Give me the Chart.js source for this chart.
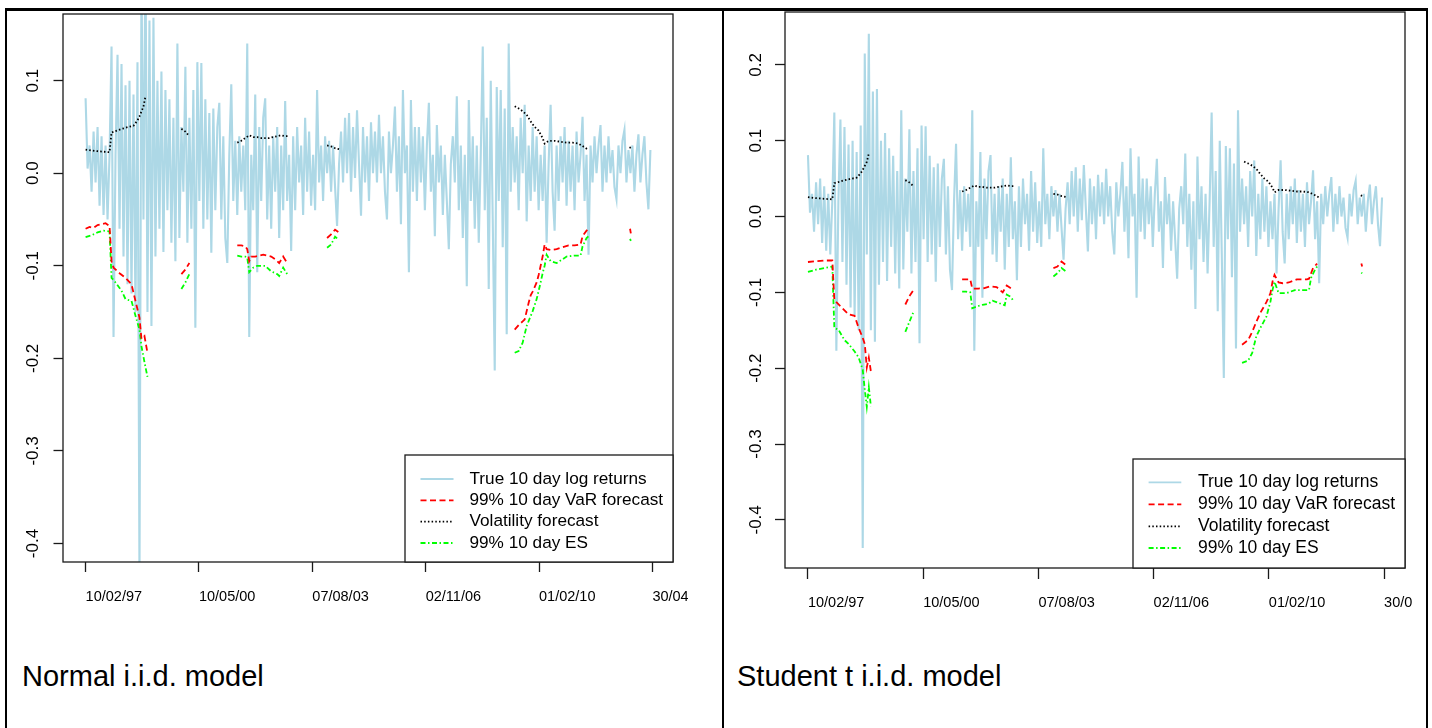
<!DOCTYPE html>
<html>
<head>
<meta charset="utf-8">
<title>10 day VaR backtest</title>
<script src="https://cdn.jsdelivr.net/npm/chart.js@4.4.1/dist/chart.umd.min.js"></script>
<style>
  html, body { margin: 0; padding: 0; background: #fff; }
  body { width: 1432px; height: 728px; position: relative; overflow: hidden;
         font-family: "Liberation Sans", Arial, Helvetica, sans-serif; }
  canvas { position: absolute; top: 0; }
  #normal { left: 0; }
  #student { left: 724px; }
  .rule { position: absolute; background: #000; z-index: 2; }
  .caption { position: absolute; top: 662px; font-size: 29px; line-height: 29px; color: #000; white-space: nowrap; }
</style>
</head>
<body>
<canvas id="normal" width="688" height="640"></canvas>
<canvas id="student" width="688" height="640"></canvas>

<div class="rule" style="left:5px; top:8px; width:1423px; height:3px;"></div>
<div class="rule" style="left:5px; top:8px; width:2px; height:720px;"></div>
<div class="rule" style="left:722px; top:8px; width:2px; height:720px;"></div>
<div class="rule" style="left:1426px; top:8px; width:2px; height:720px;"></div>

<div class="caption" style="left:22px;">Normal i.i.d. model</div>
<div class="caption" style="left:737px;">Student t i.i.d. model</div>

<script>
// x is the observation number (every 14th trading day), 0..283
const returns = [
  0.081, 0.005, 0.030, -0.020, 0.045, -0.010, 0.050, -0.035, 0.040, -0.045,
  0.030, -0.050, 0.020, 0.137, -0.177, 0.020, 0.128, -0.060, 0.118, -0.090,
  0.095, -0.120, 0.100, -0.130, 0.085, -0.150, 0.120, -0.437, 0.215, -0.050,
  0.241, -0.150, 0.165, -0.165, 0.168, -0.090, 0.100, -0.060, 0.110, -0.085,
  0.090, -0.040, 0.080, -0.075, 0.060, -0.095, 0.140, -0.070, 0.050, -0.020,
  0.115, -0.075, 0.060, -0.060, 0.090, -0.167, 0.120, -0.030, 0.119, -0.060,
  0.080, -0.050, 0.065, -0.086, 0.070, -0.040, 0.050, 0.076, -0.050, 0.040,
  -0.070, -0.097, 0.020, 0.096, -0.030, 0.035, -0.045, 0.040, -0.020, 0.030,
  -0.040, 0.140, -0.177, 0.020, -0.040, 0.085, -0.107, 0.050, -0.030, 0.060,
  0.081, -0.050, 0.030, -0.060, 0.040, -0.020, 0.050, -0.070, 0.030, -0.040,
  0.078, -0.030, 0.020, -0.084, 0.040, -0.040, 0.050, -0.010, 0.030, -0.045,
  0.060, -0.020, 0.045, -0.035, 0.020, -0.040, 0.090, -0.010, 0.030, -0.030,
  0.040, 0.000, 0.035, -0.020, 0.030, -0.015, -0.057, 0.010, 0.045, -0.010,
  0.060, 0.000, 0.065, -0.020, 0.050, -0.005, 0.068, 0.010, -0.046, 0.050,
  -0.010, 0.040, -0.030, 0.055, 0.000, 0.045, -0.010, 0.063, 0.000, 0.040,
  -0.020, -0.050, 0.045, 0.000, 0.030, 0.072, -0.020, 0.040, -0.055, 0.090,
  0.000, 0.030, -0.107, 0.079, -0.020, 0.050, -0.030, 0.050, -0.010, 0.040,
  -0.040, 0.030, 0.076, -0.020, 0.020, -0.068, 0.052, -0.010, 0.030, -0.045,
  0.020, -0.030, -0.082, 0.010, 0.040, -0.010, 0.083, -0.040, 0.030, -0.070,
  0.020, -0.122, 0.079, -0.030, 0.040, -0.060, 0.030, -0.075, 0.020, 0.137,
  -0.040, 0.060, -0.125, 0.100, -0.050, -0.213, 0.093, -0.030, 0.090, -0.080,
  0.070, -0.174, 0.140, -0.020, 0.050, -0.010, 0.040, -0.040, 0.060, 0.000,
  0.074, -0.052, 0.030, -0.030, 0.050, -0.020, 0.040, -0.040, 0.020, -0.030,
  0.030, -0.075, 0.010, 0.074, -0.020, -0.062, 0.030, -0.030, 0.040, -0.010,
  0.050, -0.035, 0.035, -0.020, 0.030, -0.040, 0.045, -0.010, 0.020, 0.061,
  -0.030, 0.020, -0.088, 0.030, -0.010, 0.040, 0.000, 0.030, 0.052, -0.020,
  0.030, -0.010, 0.040, 0.000, 0.025, -0.015, -0.028, 0.030, 0.000, 0.035,
  0.047, -0.010, 0.025, 0.000, 0.030, -0.020, 0.020, 0.042, -0.010, 0.020,
  0.040, -0.010, -0.039, 0.025
];

// forecasts only exist in some windows: [x, value], null = break in the line
const volForecast = [
  [0, 0.0256], [3, 0.0245], [6, 0.0238], [9, 0.0232], [12, 0.0227], [13, 0.044], [15, 0.0455],
  [18, 0.0478], [21, 0.0497], [24, 0.0512], [26, 0.057], [27, 0.0615], [29, 0.072], [30, 0.083], null,
  [48, 0.048], [50, 0.045], [52, 0.040], null,
  [76, 0.033], [78, 0.035], [80, 0.038], [82, 0.041], [84, 0.039], [86, 0.039], [88, 0.038],
  [90, 0.038], [92, 0.038], [94, 0.039], [96, 0.040], [98, 0.041], [100, 0.040], [102, 0.040], null,
  [121, 0.030], [123, 0.029], [125, 0.027], [127, 0.026], null,
  [215, 0.0723], [217, 0.070], [219, 0.067], [221, 0.063], [223, 0.056], [225, 0.050], [227, 0.046],
  [229, 0.038], [230, 0.032], [232, 0.035], [235, 0.035], [238, 0.034], [241, 0.033], [244, 0.033],
  [247, 0.032], [250, 0.028], [252, 0.025], null,
  [272.5, 0.028], [273.5, 0.027]
];

const varNormal = [
  [0, -0.060], [2, -0.058], [4, -0.059], [6, -0.056], [8, -0.055], [10, -0.054], [12, -0.057],
  [13, -0.095], [14, -0.102], [17, -0.108], [20, -0.113], [23, -0.120], [25, -0.138], [27, -0.156],
  [28, -0.179], [29.5, -0.176], [31, -0.194], null,
  [48, -0.109], [50, -0.104], [52, -0.097], null,
  [76, -0.078], [78, -0.078], [80, -0.079], [81, -0.082], [82, -0.095], [83, -0.090], [85, -0.090],
  [87, -0.089], [89, -0.088], [91, -0.089], [93, -0.090], [95, -0.093], [97, -0.097], [99, -0.090],
  [101, -0.097], null,
  [121, -0.070], [123, -0.066], [125, -0.061], [127, -0.064], null,
  [215, -0.169], [217, -0.164], [219, -0.160], [220, -0.158], [222, -0.140], [223, -0.132], [224, -0.128],
  [226, -0.118], [227, -0.110], [228, -0.100], [229, -0.090], [230, -0.077], [231, -0.082], [233, -0.083],
  [236, -0.082], [239, -0.080], [242, -0.078], [245, -0.078], [248, -0.077], [249, -0.068], [251, -0.062],
  [252, -0.060], null,
  [272.8, -0.060], [273.2, -0.065]
];

const esNormal = [
  [0, -0.069], [3, -0.067], [6, -0.064], [9, -0.062], [12, -0.063], [13, -0.113], [15, -0.118],
  [18, -0.127], [20, -0.136], [23, -0.138], [25, -0.154], [27, -0.169], [28, -0.187], [29.5, -0.204],
  [31, -0.220], null,
  [48, -0.125], [50, -0.118], [52, -0.109], null,
  [76, -0.089], [78, -0.090], [80, -0.090], [81, -0.091], [82, -0.107], [84, -0.102], [86, -0.100],
  [88, -0.100], [90, -0.100], [93, -0.106], [96, -0.109], [97, -0.111], [99, -0.102], [101, -0.109], null,
  [121, -0.0805], [123, -0.077], [125, -0.0686], [127, -0.072], null,
  [215, -0.194], [217, -0.192], [219, -0.183], [221, -0.165], [224, -0.149], [226, -0.136], [228, -0.118],
  [229, -0.108], [230, -0.100], [231, -0.088], [233, -0.095], [236, -0.097], [239, -0.093], [241, -0.090],
  [245, -0.089], [248, -0.089], [249, -0.079], [251, -0.070], [252, -0.068], null,
  [272.8, -0.071], [273.2, -0.073]
];

const varStudent = [
  [0, -0.060], [4, -0.059], [8, -0.058], [12, -0.058], [13, -0.110], [14, -0.113], [17, -0.121],
  [20, -0.129], [23, -0.131], [25, -0.147], [27, -0.160], [28, -0.168], [29, -0.199], [30, -0.186],
  [31, -0.204], null,
  [48, -0.116], [50, -0.105], [52, -0.097], null,
  [76, -0.083], [78, -0.083], [80, -0.083], [81, -0.095], [84, -0.095], [87, -0.0945], [90, -0.092],
  [93, -0.093], [96, -0.100], [98, -0.091], [100, -0.0945], [101, -0.096], null,
  [121, -0.068], [123, -0.066], [125, -0.0594], [127, -0.0638], null,
  [214, -0.169], [217, -0.163], [219, -0.152], [221, -0.139], [223, -0.127], [226, -0.113], [228, -0.101],
  [229, -0.086], [230, -0.077], [232, -0.087], [234, -0.088], [237, -0.087], [241, -0.083], [246, -0.083],
  [247, -0.082], [249, -0.068], [251, -0.062], null,
  [272.8, -0.062], [273.2, -0.066]
];

const esStudent = [
  [0, -0.073], [4, -0.070], [8, -0.068], [12, -0.066], [13, -0.147], [15, -0.149], [18, -0.163],
  [20, -0.168], [23, -0.178], [25, -0.186], [27, -0.202], [28, -0.228], [29, -0.251], [30, -0.225],
  [31, -0.250], null,
  [48, -0.152], [50, -0.139], [52, -0.126], null,
  [76, -0.099], [78, -0.099], [80, -0.100], [81, -0.121], [84, -0.118], [86, -0.1165], [89, -0.115],
  [91, -0.111], [94, -0.114], [97, -0.117], [98, -0.103], [100, -0.106], [101, -0.110], null,
  [121, -0.079], [123, -0.0747], [125, -0.068], [127, -0.072], null,
  [214, -0.193], [217, -0.190], [219, -0.180], [221, -0.158], [223, -0.147], [226, -0.132], [228, -0.112],
  [229, -0.097], [230, -0.086], [232, -0.101], [236, -0.101], [240, -0.097], [247, -0.097], [248, -0.081],
  [250, -0.070], [251, -0.066], null,
  [272.8, -0.074], [273.2, -0.075]
];

const xTickPos = [0, 56.8, 113.6, 170.4, 227.2, 284];
const xTickLabels = ["10/02/97", "10/05/00", "07/08/03", "02/11/06", "01/02/10", "30/04/13"];
const yTicksNormal = [-0.4, -0.3, -0.2, -0.1, 0.0, 0.1];
const yTicksStudent = [-0.4, -0.3, -0.2, -0.1, 0.0, 0.1, 0.2];
const legendOrder = ["True 10 day log returns", "99% 10 day VaR forecast", "Volatility forecast", "99% 10 day ES"];

Chart.defaults.font.family = '"Liberation Sans", Arial, Helvetica, sans-serif';
Chart.defaults.color = "#000";

// pairs -> chart points, a null pair becomes a gap
function toPoints(pairs) {
  let pts = [];
  let lastX = 0;
  for (let k = 0; k < pairs.length; k++) {
    if (pairs[k] === null) {
      pts.push({ x: lastX + 0.5, y: null });
    } else {
      lastX = pairs[k][0];
      pts.push({ x: pairs[k][0], y: pairs[k][1] });
    }
  }
  return pts;
}

// frame round the plotting region
const plotBox = {
  id: "plotBox",
  afterDraw(chart) {
    const a = chart.chartArea;
    const ctx = chart.ctx;
    ctx.save();
    ctx.strokeStyle = "#1a1a1a";
    ctx.lineWidth = 1.3;
    ctx.strokeRect(a.left, a.top, a.right - a.left, a.bottom - a.top);
    ctx.restore();
  }
};

// boxed legend in the bottom right corner
function boxedLegend(lg) {
  return {
    id: "boxedLegend",
    afterDraw(chart) {
      const a = chart.chartArea;
      const ctx = chart.ctx;
      const left = a.right - lg.w;
      const top = a.bottom - lg.h;
      ctx.save();
      ctx.fillStyle = "#fff";
      ctx.fillRect(left, top, lg.w, lg.h);
      ctx.strokeStyle = "#1a1a1a";
      ctx.lineWidth = 1.3;
      ctx.strokeRect(left, top, lg.w, lg.h);
      ctx.font = lg.font + 'px "Liberation Sans", Arial, sans-serif';
      ctx.textBaseline = "middle";
      ctx.textAlign = "left";
      for (let r = 0; r < legendOrder.length; r++) {
        const ds = chart.data.datasets.find(d => d.label === legendOrder[r]);
        const y = top + lg.rows[r];
        ctx.strokeStyle = ds.borderColor;
        ctx.lineWidth = Math.min(ds.borderWidth, 1.8);
        ctx.setLineDash(ds.borderDash || []);
        ctx.beginPath();
        ctx.moveTo(left + lg.x0, y);
        ctx.lineTo(left + lg.x1, y);
        ctx.stroke();
        ctx.setLineDash([]);
        ctx.fillStyle = "#000";
        ctx.fillText(legendOrder[r], left + lg.tx, y);
      }
      ctx.restore();
    }
  };
}

function drawPanel(id, p) {
  return new Chart(document.getElementById(id), {
    type: "line",
    data: {
      datasets: [
        { label: "Volatility forecast", data: toPoints(volForecast), borderColor: "#000000",
          borderWidth: 1.8, borderDash: [1.5, 2.2] },
        { label: "99% 10 day VaR forecast", data: toPoints(p.varData), borderColor: "#ff0000",
          borderWidth: 1.8, borderDash: [6, 3.5] },
        { label: "99% 10 day ES", data: toPoints(p.esData), borderColor: "#00ff00",
          borderWidth: 1.8, borderDash: [5, 2.5, 1.5, 2.5] },
        { label: "True 10 day log returns", data: returns.map((v, i) => ({ x: i, y: v })),
          borderColor: "#add8e6", borderWidth: 2.1 }
      ]
    },
    options: {
      responsive: false,
      animation: false,
      spanGaps: false,
      events: [],
      elements: { point: { radius: 0 }, line: { tension: 0, fill: false, borderJoinStyle: "miter" } },
      layout: { padding: { left: 0, top: p.padTop, right: p.padRight, bottom: 0 } },
      plugins: { legend: { display: false }, tooltip: { enabled: false } },
      scales: {
        x: {
          type: "linear", min: -11.32, max: 294.32, bounds: "data",
          afterBuildTicks: s => { s.ticks = xTickPos.map(v => ({ value: v })); },
          afterFit: s => { s.height = p.xAxisH; s.paddingLeft = 0; s.paddingRight = 0; },
          border: { display: false },
          grid: { drawOnChartArea: false, drawTicks: true, tickLength: p.xTickLen, tickColor: "#1a1a1a", tickWidth: 1.3 },
          ticks: { autoSkip: false, minRotation: 0, maxRotation: 0, align: "start", padding: p.xPad,
                   font: { size: 14.5 }, callback: (v, i) => xTickLabels[i] }
        },
        y: {
          type: "linear", min: p.yMin, max: p.yMax, bounds: "data",
          afterBuildTicks: s => { s.ticks = p.yTicks.map(v => ({ value: v })); },
          afterFit: s => { s.width = p.yAxisW; s.paddingTop = 0; s.paddingBottom = 0; },
          border: { display: false },
          grid: { drawOnChartArea: false, drawTicks: true, tickLength: p.yTickLen, tickColor: "#1a1a1a", tickWidth: 1.3 },
          ticks: { autoSkip: false, minRotation: 90, maxRotation: 90, crossAlign: "center", padding: p.yPad,
                   font: { size: 17 }, callback: v => v.toFixed(1) }
        }
      }
    },
    plugins: [plotBox, boxedLegend(p.legend)]
  });
}

drawPanel("normal", {
  varData: varNormal, esData: esNormal, yTicks: yTicksNormal,
  yMin: -0.42, yMax: 0.172,
  padTop: 14, padRight: 15, xAxisH: 78, yAxisW: 63,
  xTickLen: 10, xPad: 16, yTickLen: 9.5, yPad: 6,
  legend: { w: 268, h: 107, rows: [24, 45.3, 66.7, 88], x0: 15.5, x1: 48.5, tx: 64.5, font: 17.2 }
});

drawPanel("student", {
  varData: varStudent, esData: esStudent, yTicks: yTicksStudent,
  yMin: -0.4635, yMax: 0.2697,
  padTop: 12, padRight: 7, xAxisH: 72, yAxisW: 61,
  xTickLen: 11, xPad: 15, yTickLen: 10, yPad: 4.5,
  legend: { w: 272, h: 109, rows: [23.3, 45.3, 67.3, 89], x0: 15.6, x1: 48.3, tx: 65, font: 17.5 }
});
</script>
</body>
</html>
